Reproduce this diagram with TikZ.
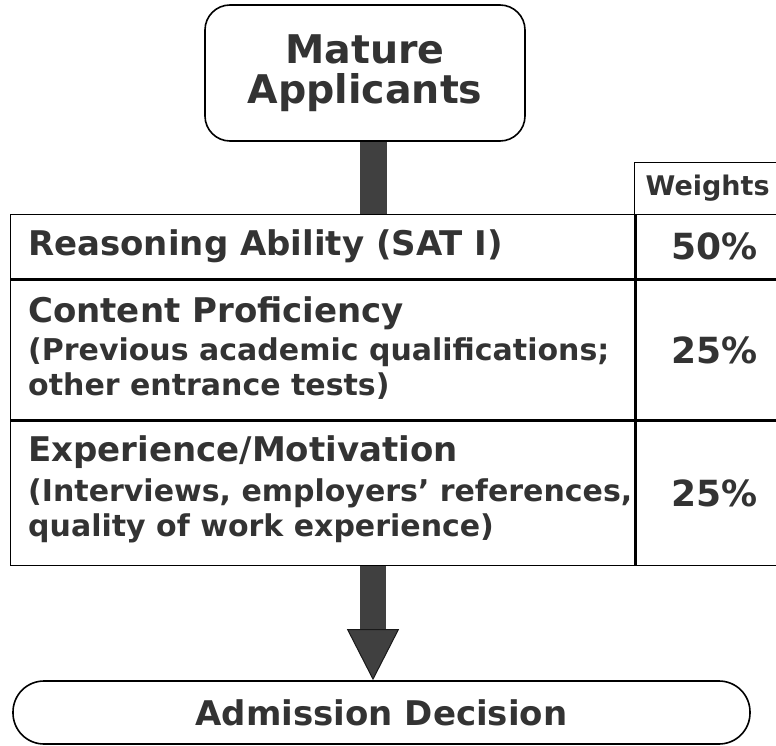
\documentclass[tikz,border=0pt]{standalone}
\usepackage{fontspec}
\setmainfont{DejaVu Sans}
\usetikzlibrary{arrows.meta}
\tikzset{
	txt/.style={text=black!80},
	roundbox/.style={draw, line width=1.6pt, fill=white, align=center, txt},
	cell/.style={draw, line width=1.3pt, inner sep=0pt, anchor=north west},
	rowtext/.style={anchor=west, inner sep=0pt, align=left, txt},
	wcell/.style={draw, line width=1.3pt, inner sep=0pt, anchor=north west, align=center, txt},
	shaft/.style={draw=black!75, line width=27pt},
	bigarrow/.style={draw=black!75, line width=26pt, -{Triangle[width=52pt, length=51pt, line width=1pt, fill=black!75, color=black!90]}},
}
\def\bigfont#1{\bfseries\fontsize{#1}{#1}\selectfont}

\begin{document}
\begin{tikzpicture}[x=1pt, y=-1pt]
		%%%%% START %%%%%
		\useasboundingbox (0, 0) rectangle (776, 746);
		
		\node[roundbox, rounded corners=25pt, minimum width=320pt, minimum height=136pt, font=\bfseries\fontsize{39.5}{40}\selectfont] (mature) at (365, 73) {Mature\\Applicants};
		
		% table
		\node[wcell, minimum width=146pt, minimum height=52pt, font=\bigfont{27}] (weights) at (634, 162) {Weights};
		
		\node[cell, minimum width=624pt, minimum height=64pt] (reason) at (10, 214) {};
		\node[rowtext, font=\bigfont{34}] (reasont) at ([xshift=18pt]reason.west) {Reasoning Ability (SAT I)};
		\node[wcell, minimum width=158pt, minimum height=64pt, font=\bigfont{36}] (reasonw) at (reason.north east) {50\%};
		
		\node[cell, minimum width=624pt, minimum height=140pt] (content) at (reason.south west) {};
		\node[rowtext, font=\bfseries\fontsize{30}{35}\selectfont] (contentt) at ([xshift=18pt, yshift=2pt]content.west) {{\fontsize{34}{40}\selectfont Content Proficiency}\\[3pt](Previous academic qualifications;\\other entrance tests)};
		\node[wcell, minimum width=158pt, minimum height=140pt, font=\bigfont{36}] (contentw) at (content.north east) {25\%};
		
		\node[cell, minimum width=624pt, minimum height=144pt] (exper) at (content.south west) {};
		\node[rowtext, font=\bfseries\fontsize{30}{35}\selectfont] (expert) at ([xshift=18pt, yshift=4pt]exper.west) {{\fontsize{34}{40}\selectfont Experience/Motivation}\\[5pt](Interviews, employers’ references,\\quality of work experience)};
		\node[wcell, minimum width=158pt, minimum height=144pt, font=\bigfont{36}] (experw) at (exper.north east) {25\%};
		
		\node[roundbox, rounded corners=31pt, minimum width=737pt, minimum height=63pt, font=\bigfont{34}] (decision) at (381.5, 712.5) {Admission Decision};
		
		% arrows
		\draw[shaft] ([xshift=8pt]mature.south) -- ([xshift=8pt]mature.south |- reason.north);
		\draw[bigarrow] ([xshift=8pt]mature.south |- exper.south) -- ([xshift=8pt]mature.south |- decision.north);
		
		%%%%% END %%%%%
\end{tikzpicture}
\end{document}
